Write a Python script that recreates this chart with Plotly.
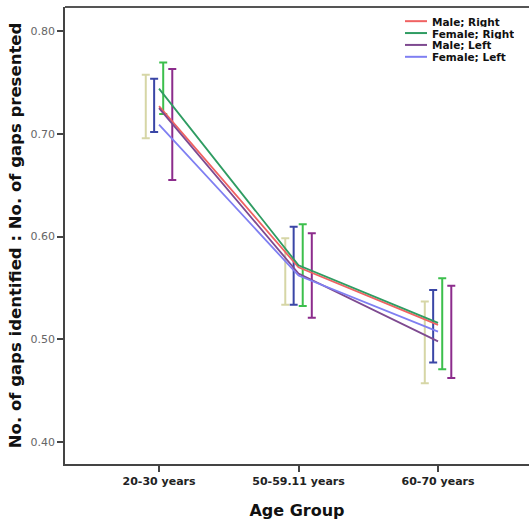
import plotly.graph_objects as go

categories = ["20-30 years", "50-59.11 years", "60-70 years"]
series_names = ["Male; Right", "Female; Right", "Male; Left", "Female; Left"]

male_right_mean = [0.727, 0.570, 0.514]
male_right_lo = [0.7018, 0.5335, 0.4773]
male_right_hi = [0.7536, 0.6096, 0.5480]

female_right_mean = [0.744, 0.572, 0.516]
female_right_lo = [0.7193, 0.5325, 0.4708]
female_right_hi = [0.7695, 0.6120, 0.5594]

male_left_mean = [0.725, 0.564, 0.498]
male_left_lo = [0.6956, 0.5335, 0.4573]
male_left_hi = [0.7575, 0.5983, 0.5367]

female_left_mean = [0.709, 0.562, 0.5075]
female_left_lo = [0.6550, 0.5210, 0.4622]
female_left_hi = [0.7630, 0.6032, 0.5520]

means = [male_right_mean, female_right_mean, male_left_mean, female_left_mean]
los = [male_right_lo, female_right_lo, male_left_lo, female_left_lo]
his = [male_right_hi, female_right_hi, male_left_hi, female_left_hi]

line_colors = ["#f06262", "#2f9c62", "#7e4a90", "#7f7ff2"]
bar_colors = ["#3a46a6", "#3cbf4c", "#d6d6a6", "#8c2c8c"]
bar_offsets = [-0.035, 0.03, -0.095, 0.095]

BOLD = "DejaVu Sans, Liberation Sans, Arial, sans-serif"
xpos = list(range(len(categories)))

fig = go.Figure()

# error bars (drawn first, behind lines)
for m, lo, hi, c, off in zip(means, los, his, bar_colors, bar_offsets):
    fig.add_trace(go.Scatter(
        x=[x + off for x in xpos], y=m, mode="markers",
        marker=dict(size=1, opacity=0),
        error_y=dict(type="data", symmetric=False,
                     array=[h - v for h, v in zip(hi, m)],
                     arrayminus=[v - l for v, l in zip(m, lo)],
                     color=c, thickness=2, width=4),
        showlegend=False, hoverinfo="skip"))

# mean lines
for name, m, c in zip(series_names, means, line_colors):
    fig.add_trace(go.Scatter(x=xpos, y=m, mode="lines", name=name,
                             line=dict(color=c, width=1.8), showlegend=False))

# manual compact legend
leg_y0 = 0.969
leg_dy = 0.026
shapes = [dict(type="line", xref="paper", yref="paper", x0=0, x1=1, y0=1, y1=1,
               line=dict(color="#555", width=2))]
annotations = []
for i, (name, c) in enumerate(zip(series_names, line_colors)):
    yy = leg_y0 - i * leg_dy
    shapes.append(dict(type="line", xref="paper", yref="paper",
                       x0=(405 - 65) / 464, x1=(427 - 65) / 464, y0=yy, y1=yy,
                       line=dict(color=c, width=2)))
    annotations.append(dict(xref="paper", yref="paper", x=(430 - 65) / 464, y=yy,
                            text="<b>%s</b>" % name, showarrow=False, xanchor="left",
                            yanchor="middle", height=11,
                            font=dict(family=BOLD, size=10.5, color="#111")))

fig.update_layout(
    width=529, height=527,
    margin=dict(l=65, r=0, t=7, b=63),
    plot_bgcolor="white", paper_bgcolor="white",
    showlegend=False,
    shapes=shapes, annotations=annotations,
    xaxis=dict(range=[-0.674, 2.652], tickvals=xpos, ticktext=["<b>%s</b>" % c for c in categories],
               showgrid=False, zeroline=False, showline=True, linecolor="#444", linewidth=1.5,
               ticks="outside", ticklen=6, tickcolor="#444", tickwidth=1.5,
               tickfont=dict(family=BOLD, size=11, color="#222"),
               title=dict(text="<b>Age Group</b>", font=dict(family=BOLD, size=16, color="#111"),
                          standoff=18)),
    yaxis=dict(range=[0.3786, 0.8234], tickvals=[0.4, 0.5, 0.6, 0.7, 0.8],
               ticktext=["0.40", "0.50", "0.60", "0.70", "0.80"],
               showgrid=False, zeroline=False, showline=True, linecolor="#444", linewidth=1.5,
               ticks="outside", ticklen=6, tickcolor="#444", tickwidth=1.5,
               tickfont=dict(family="DejaVu Sans, sans-serif", size=11, color="#666"),
               title=dict(text="<b>No. of gaps identified : No. of gaps presented</b>",
                          font=dict(family=BOLD, size=16.5, color="#111"), standoff=5)),
)

fig.write_html("out.html")
